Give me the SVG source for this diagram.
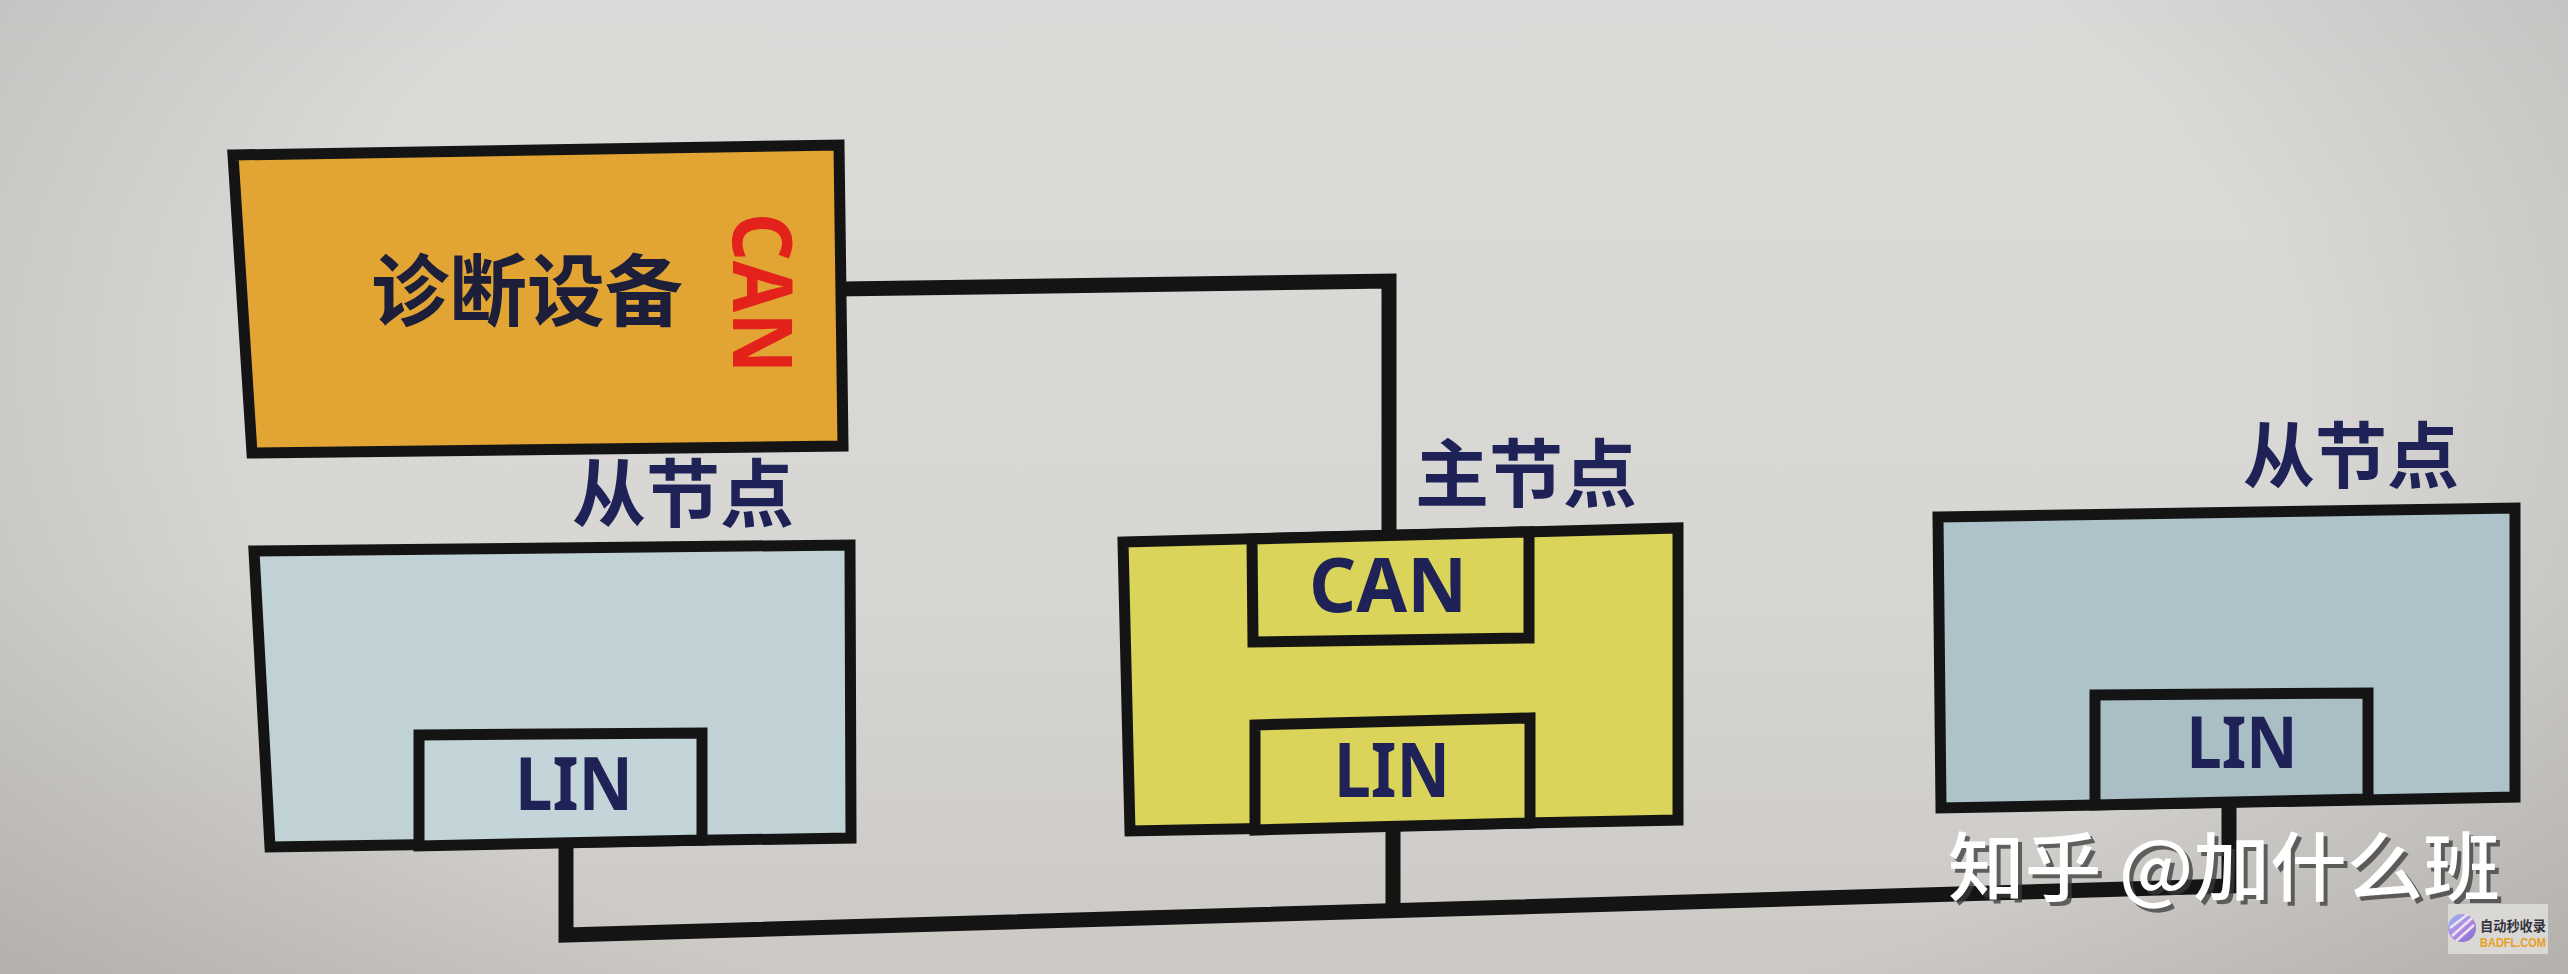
<svg xmlns="http://www.w3.org/2000/svg" width="2568" height="974" viewBox="0 0 2568 974">
  <defs>
    <linearGradient id="bg" x1="0" y1="0" x2="0" y2="1">
      <stop offset="0" stop-color="#DBDBD9"/>
      <stop offset="0.6" stop-color="#D7D6D3"/>
      <stop offset="1" stop-color="#CCC9C5"/>
    </linearGradient>
    <radialGradient id="vig" cx="0.5" cy="0.45" r="0.72" gradientTransform="translate(0.5 0.45) scale(1 1.6) translate(-0.5 -0.45)">
      <stop offset="0.55" stop-color="#000" stop-opacity="0"/>
      <stop offset="1" stop-color="#1a1410" stop-opacity="0.2"/>
    </radialGradient>
    <linearGradient id="logo" x1="0" y1="0" x2="1" y2="1">
      <stop offset="0" stop-color="#8FB8F0"/>
      <stop offset="0.5" stop-color="#B48AE0"/>
      <stop offset="1" stop-color="#7A6AD0"/>
    </linearGradient>
    <style>
      .box { stroke: #141414; stroke-width: 11; stroke-linejoin: miter; }
      .wire { fill: none; stroke: #141414; stroke-width: 15; stroke-linejoin: miter; stroke-linecap: square; }
      .cn { font-family: "Noto Sans CJK SC", "Noto Sans", sans-serif; font-weight: 700; fill: #1E2257; text-anchor: middle; }
      .lat { font-family: "Noto Sans", "Liberation Sans", sans-serif; font-weight: 700; fill: #1E2257; text-anchor: middle; }
      .wm { font-family: "Noto Sans CJK SC", sans-serif; font-weight: 500; font-size: 75px; }
    </style>
  </defs>

  <rect x="0" y="0" width="2568" height="974" fill="url(#bg)"/>
  <rect x="0" y="0" width="2568" height="974" fill="url(#vig)"/>

  <g id="connectors">
    <path class="wire" d="M842 289 L1389 281 L1389 536"/>
    <path class="wire" d="M566 846 L566 935 L2229 886 L2229 802"/>
    <path class="wire" d="M1393 826 L1393 910"/>
  </g>

  <g id="diag">
    <polygon class="box" fill="#E2A534" points="233,155 839,145 843,446 252,453"/>
    <text class="cn" x="527" y="320" font-size="78" style="fill:#1C1E3A">诊断设备</text>
    <text transform="translate(762,293) rotate(90)" x="0" y="29" font-family="Noto Sans, Liberation Sans, sans-serif" font-weight="700" font-size="82" fill="#E3221C" text-anchor="middle" textLength="160" lengthAdjust="spacingAndGlyphs">CAN</text>
  </g>

  <g id="slave-left">
    <text class="cn" x="683" y="521" font-size="74">从节点</text>
    <polygon class="box" fill="#C1D2D7" points="254,551 850,545 851,838 270,847"/>
    <polygon class="box" fill="#C4D5D9" points="419,735 702,733 702,840 419,846"/>
    <text class="lat" x="574" y="810" font-size="74" textLength="118" lengthAdjust="spacingAndGlyphs">LIN</text>
  </g>

  <g id="master">
    <text class="cn" x="1526" y="501" font-size="74">主节点</text>
    <polygon class="box" fill="#DAD45A" points="1123,542 1678,528 1678,820 1130,831"/>
    <polygon class="box" fill="#DAD45A" points="1252,539 1529,532 1529,638 1253,642"/>
    <text class="lat" x="1388" y="612" font-size="76" textLength="158" lengthAdjust="spacingAndGlyphs">CAN</text>
    <polygon class="box" fill="#DAD45A" points="1255,725 1530,718 1530,823 1255,830"/>
    <text class="lat" x="1392" y="797" font-size="76" textLength="116" lengthAdjust="spacingAndGlyphs">LIN</text>
  </g>

  <g id="slave-right">
    <text class="cn" x="2351" y="482" font-size="72">从节点</text>
    <polygon class="box" fill="#ADC2C9" points="1938,517 2515,508 2515,797 1941,808"/>
    <polygon class="box" fill="#A9BEC5" points="2095,695 2368,693 2368,799 2095,805"/>
    <text class="lat" x="2242" y="768" font-size="72" textLength="111" lengthAdjust="spacingAndGlyphs">LIN</text>
  </g>

  <g id="watermark">
    <text class="wm" x="1952" y="899" fill="#3A3A3A" fill-opacity="0.75" textLength="552" lengthAdjust="spacingAndGlyphs">知乎 @加什么班</text>
    <text class="wm" x="1948" y="895" fill="#FFFFFF" textLength="552" lengthAdjust="spacingAndGlyphs">知乎 @加什么班</text>
    <rect x="2448" y="904" width="100" height="50" fill="#DAD8D4"/>
    <circle cx="2462" cy="928" r="14" fill="url(#logo)"/>
    <path d="M2452 936 L2472 918 M2450 928 L2468 914 M2456 941 L2474 925" stroke="#E8E4F4" stroke-width="2.5" fill="none"/>
    <text x="2513" y="931" font-family="Noto Sans CJK SC, sans-serif" font-weight="700" font-size="14" fill="#333340" text-anchor="middle" textLength="66" lengthAdjust="spacingAndGlyphs">自动秒收录</text>
    <text x="2513" y="947" font-family="Liberation Sans, sans-serif" font-weight="700" font-size="12" fill="#E8A024" text-anchor="middle" textLength="66" lengthAdjust="spacingAndGlyphs">BADFL.COM</text>
  </g>
</svg>
